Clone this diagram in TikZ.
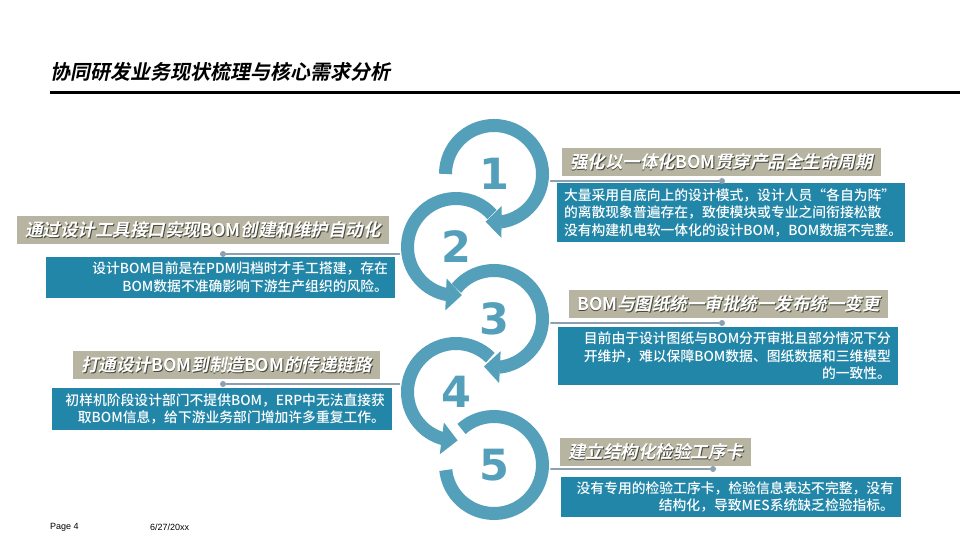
\documentclass[tikz,border=0pt]{standalone}
\usepackage{fontspec}
\setmainfont{Noto Sans CJK SC Medium}
\newfontfamily\headfont{Noto Sans CJK SC Bold}[FakeSlant=0.2]
\newfontfamily\headup{Noto Sans CJK SC Bold}
\newfontfamily\numfont{DejaVu Sans Bold}
\newfontfamily\footfont{Liberation Sans}
\usetikzlibrary{arrows.meta,bending,positioning}

\definecolor{ringblue}{RGB}{84,160,186}
\definecolor{boxblue}{RGB}{34,134,168}
\definecolor{headgray}{RGB}{183,181,161}
\definecolor{linegray}{RGB}{140,160,178}
\definecolor{shadowgray}{RGB}{70,70,60}

% white heading text with a dark drop shadow
\newcommand{\shtext}[1]{\makebox[0pt][l]{\hspace{0.9pt}\raisebox{-0.9pt}{\color{shadowgray}#1}}#1}
\newcommand{\up}[1]{{\headup #1}}

\tikzset{
  headbox/.style={fill=headgray, text=white, font=\headfont\fontsize{17.5}{20}\selectfont,
    inner xsep=8pt, inner ysep=0pt, minimum height=28pt},
  bodybox/.style={fill=boxblue, text=white, font=\fontsize{13.8}{17.5}\selectfont,
    inner xsep=7pt, inner ysep=3pt},
  conn/.style={draw=linegray, line width=1.6pt},
  dotnode/.style={circle, fill=linegray, inner sep=0pt, minimum size=6pt},
  ring/.style={circle, inner sep=0pt, minimum size=110pt, text=ringblue,
    font=\numfont\fontsize{43}{43}\selectfont},
  ringarc/.style={draw=ringblue, line width=13pt, preaction={draw=white, line width=16pt}},
  ringtip/.style={-{Triangle[width=31pt,length=16pt,flex]}}
}

\begin{document}
\begin{tikzpicture}[x=1pt,y=1pt]
\useasboundingbox (0,0) rectangle (960,540);
\def\rr{48.5} % mid radius of the rings

% Title and rule
\node[anchor=west, inner sep=0pt, font=\headfont\fontsize{20}{24}\selectfont] (title) at (50,468) {协同研发业务现状梳理与核心需求分析};
\draw[line width=3pt] (50,447) -- (960,447);

% Rings with the step numbers
\node[ring] (r1) at (494,366) {1};
\node[ring] (r2) at (456,293) {2};
\node[ring] (r3) at (494,221) {3};
\node[ring] (r4) at (456,148) {4};
\node[ring] (r5) at (494,75) {5};

% Headings
\node[headbox] (h1) at (721.5,377.5) {\shtext{强化以一体化\up{BOM}贯穿产品全生命周期}};
\node[headbox] (h2) at (203,309.5) {\shtext{通过设计工具接口实现\up{BOM}创建和维护自动化}};
\node[headbox] (h3) at (728.5,236) {\shtext{\up{BOM}与图纸统一审批统一发布统一变更}};
\node[headbox] (h4) at (226.5,174.5) {\shtext{打通设计\up{BOM}到制造\up{BOM}的传递链路}};
\node[headbox] (h5) at (655.5,87.5) {\shtext{建立结构化检验工序卡}};

% Description boxes
\node[bodybox, text width=334pt, minimum height=59pt, align=left] (b1) at (731,327.5)
  {大量采用自底向上的设计模式，设计人员“各自为阵”\\的离散现象普遍存在，致使模块或专业之间衔接松散\\没有构建机电软一体化的设计BOM，BOM数据不完整。};
\node[bodybox, text width=335pt, minimum height=41pt, align=right] (b2) at (220.5,262.5)
  {设计BOM目前是在PDM归档时才手工搭建，存在\\BOM数据不准确影响下游生产组织的风险。};
\node[bodybox, text width=326pt, minimum height=58pt, align=right] (b3) at (728,184)
  {目前由于设计图纸与BOM分开审批且部分情况下分\\开维护，难以保障BOM数据、图纸数据和三维模型\\的一致性。};
\node[bodybox, text width=326pt, minimum height=42pt, align=right] (b4) at (222,131)
  {初样机阶段设计部门不提供BOM，ERP中无法直接获\\取BOM信息，给下游业务部门增加许多重复工作。};
\node[bodybox, text width=326pt, minimum height=40pt, align=right] (b5) at (731,43)
  {没有专用的检验工序卡，检验信息表达不完整，没有\\结构化，导致MES系统缺乏检验指标。};

% Connectors from the rings to the dots
\node[dotnode] (d1) at (722,359) {};
\node[dotnode] (d2) at (223,286) {};
\node[dotnode] (d3) at (722,217) {};
\node[dotnode] (d4) at (223,156) {};
\node[dotnode] (d5) at (713,71) {};
\draw[conn] (r1.east |- d1) -- (d1);
\draw[conn] (r2.west |- d2) -- (d2);
\draw[conn] (r3.east |- d3) -- (d3);
\draw[conn] (r4.west |- d4) -- (d4);
\draw[conn] (r5.east |- d5) -- (d5);

% Arcs, lowest first so each arrow lies over the next ring
\draw[ringarc] ([shift={(132:\rr)}]r5.center) arc[start angle=132, end angle=-174, radius=\rr];
\draw[ringarc, ringtip] ([shift={(45:\rr)}]r4.center) arc[start angle=45, end angle=272, radius=\rr];
\draw[ringarc, ringtip] ([shift={(141:\rr)}]r3.center) arc[start angle=141, end angle=-102, radius=\rr];
\draw[ringarc, ringtip] ([shift={(42:\rr)}]r2.center) arc[start angle=42, end angle=277, radius=\rr];
\draw[ringarc, ringtip] ([shift={(180:\rr)}]r1.center) arc[start angle=180, end angle=-100, radius=\rr];

% Footer
\node[anchor=west, inner sep=0pt, font=\footfont\fontsize{9}{10}\selectfont] (page) at (50,13) {Page 4};
\node[anchor=west, inner sep=0pt, font=\footfont\fontsize{9}{10}\selectfont] (date) at (150,13) {6/27/20xx};
\end{tikzpicture}
\end{document}
